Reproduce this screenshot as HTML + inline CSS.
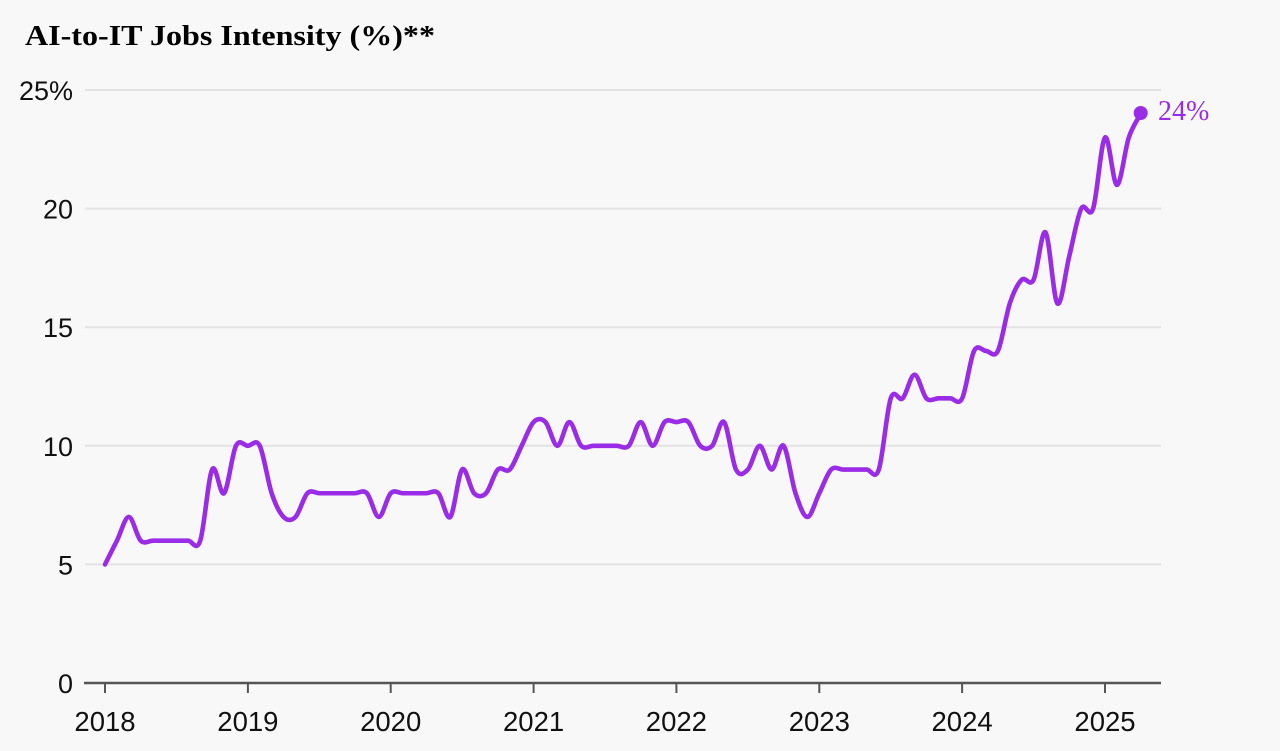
<!DOCTYPE html>
<html>
<head>
<meta charset="utf-8">
<style>
  html, body { margin: 0; padding: 0; background: #f8f8f8; }
  body { width: 1280px; height: 751px; overflow: hidden; }
  svg { display: block; }
</style>
</head>
<body>
<svg width="1280" height="751" viewBox="0 0 1280 751" xmlns="http://www.w3.org/2000/svg">
  <rect x="0" y="0" width="1280" height="751" fill="#f8f8f8"/>

  <!-- Title -->
  <text x="25" y="45" font-family="'Liberation Serif', serif" font-weight="bold" font-size="28" fill="#000" textLength="410" lengthAdjust="spacingAndGlyphs">AI-to-IT Jobs Intensity (%)**</text>

  <!-- Gridlines -->
  <g stroke="#e3e3e3" stroke-width="2">
    <line x1="85" y1="90" x2="1161" y2="90"/>
    <line x1="85" y1="208.6" x2="1161" y2="208.6"/>
    <line x1="85" y1="327.2" x2="1161" y2="327.2"/>
    <line x1="85" y1="445.8" x2="1161" y2="445.8"/>
    <line x1="85" y1="564.4" x2="1161" y2="564.4"/>
  </g>

  <!-- Y labels -->
  <g font-family="'Liberation Sans', sans-serif" font-size="27" fill="#111" text-anchor="end">
    <text x="73" y="100">25%</text>
    <text x="73" y="218.6">20</text>
    <text x="73" y="337.2">15</text>
    <text x="73" y="455.8">10</text>
    <text x="73" y="574.4">5</text>
    <text x="73" y="693">0</text>
  </g>

  <!-- X axis -->
  <line x1="84" y1="683" x2="1161" y2="683" stroke="#555" stroke-width="2.5"/>
  <g stroke="#555" stroke-width="2">
    <line x1="105" y1="683" x2="105" y2="693"/>
    <line x1="247.9" y1="683" x2="247.9" y2="693"/>
    <line x1="390.7" y1="683" x2="390.7" y2="693"/>
    <line x1="533.6" y1="683" x2="533.6" y2="693"/>
    <line x1="676.4" y1="683" x2="676.4" y2="693"/>
    <line x1="819.3" y1="683" x2="819.3" y2="693"/>
    <line x1="962.1" y1="683" x2="962.1" y2="693"/>
    <line x1="1105" y1="683" x2="1105" y2="693"/>
  </g>
  <g font-family="'Liberation Sans', sans-serif" font-size="27.5" fill="#111" text-anchor="middle">
    <text x="105" y="731">2018</text>
    <text x="247.9" y="731">2019</text>
    <text x="390.7" y="731">2020</text>
    <text x="533.6" y="731">2021</text>
    <text x="676.4" y="731">2022</text>
    <text x="819.3" y="731">2023</text>
    <text x="962.1" y="731">2024</text>
    <text x="1105" y="731">2025</text>
  </g>

  <!-- Series line (value space: x = month index, y = value) -->
  <g transform="translate(105 683) scale(11.905 -23.72)">
    <path fill="none" stroke="#9a2be6" stroke-width="4.6" stroke-linejoin="round" stroke-linecap="round" vector-effect="non-scaling-stroke"
      d="M0,5 C0.1667,5.1667 0.6667,5.6667 1,6
      S1.667,7 2,7 S2.667,6.167 3,6 S3.667,6 4,6 S4.667,6 5,6 S5.667,6 6,6 S6.667,6 7,6
      S7.667,5.5 8,6 S8.667,8.667 9,9 S9.667,7.833 10,8 S10.667,9.667 11,10 S11.667,10 12,10
      S12.667,10.333 13,10 S13.667,8.5 14,8 S14.667,7.167 15,7 S15.667,6.833 16,7 S16.667,7.833 17,8
      S17.667,8 18,8 S18.667,8 19,8 S19.667,8 20,8 S20.667,8 21,8 S21.667,8.167 22,8
      S22.667,7 23,7 S23.667,7.833 24,8 S24.667,8 25,8 S25.667,8 26,8 S26.667,8 27,8
      S27.667,8.167 28,8 S28.667,6.833 29,7 S29.667,8.833 30,9 S30.667,8.167 31,8 S31.667,7.833 32,8
      S32.667,8.833 33,9 S33.667,8.833 34,9 S34.667,9.667 35,10 S35.667,10.833 36,11 S36.667,11.167 37,11
      S37.667,10 38,10 S38.667,11 39,11 S39.667,10.167 40,10 S40.667,10 41,10 S41.667,10 42,10
      S42.667,10 43,10 S43.667,9.833 44,10 S44.667,11 45,11 S45.667,10 46,10 S46.667,10.833 47,11
      S47.667,11 48,11 S48.667,11.167 49,11 S49.667,10.167 50,10 S50.667,9.833 51,10 S51.667,11.167 52,11
      S52.667,9.333 53,9 S53.667,8.833 54,9 S54.667,10 55,10 S55.667,9 56,9 S56.667,10.167 57,10
      S57.667,8.5 58,8 S58.667,7 59,7 S59.667,7.667 60,8 S60.667,8.833 61,9 S61.667,9 62,9
      S62.667,9 63,9 S63.667,9 64,9 S64.667,8.5 65,9 S65.667,11.5 66,12 S66.667,11.833 67,12
      S67.667,13 68,13 S68.667,12.167 69,12 S69.667,12 70,12 S70.667,12 71,12 S71.667,11.667 72,12
      S72.667,13.667 73,14 S73.667,14 74,14 S74.667,13.667 75,14 S75.667,15.5 76,16 S76.667,16.833 77,17
      S77.667,16.667 78,17 S78.667,19.167 79,19 S79.667,16.167 80,16 S80.667,17.333 81,18 S81.667,19.667 82,20
      S82.667,19.5 83,20 S83.667,22.833 84,23 S84.667,21 85,21 S85.667,22.5 86,23 S86.833,23.833 87,24"/>
  </g>

  <!-- End dot and label -->
  <circle cx="1140.7" cy="113" r="7" fill="#9a2be6"/>
  <text x="1158" y="120" font-family="'Liberation Serif', serif" font-size="28" fill="#9a2be6">24%</text>
</svg>
</body>
</html>
